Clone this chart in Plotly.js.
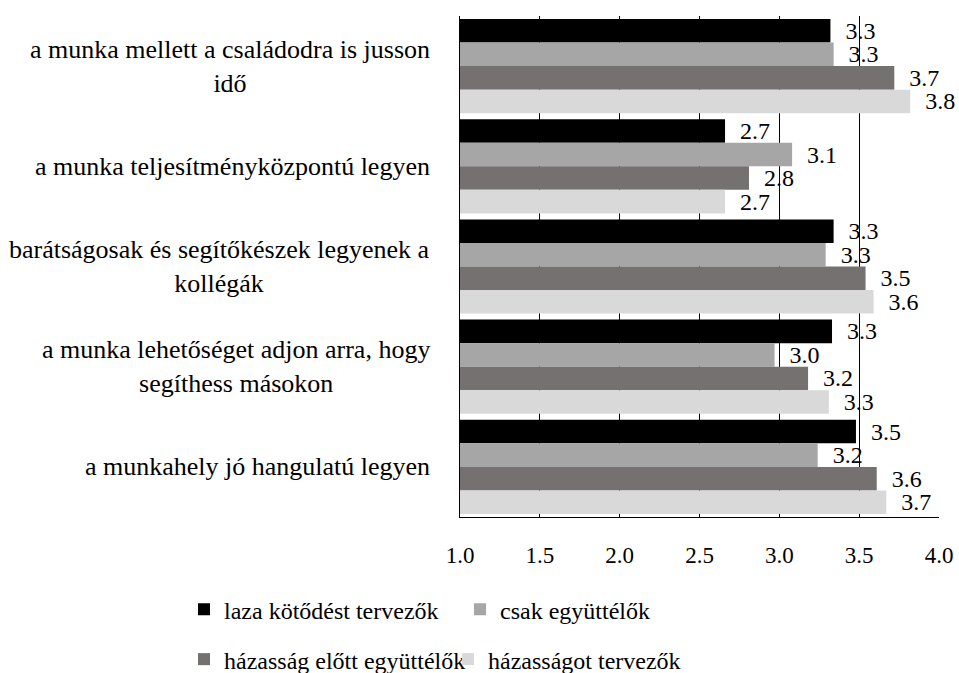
<!DOCTYPE html>
<html>
<head>
<meta charset="utf-8">
<script src="https://cdn.plot.ly/plotly-3.0.1.min.js"></script>
<style>
html body div#plotdiv svg text { font-family: "Liberation Serif", "Times New Roman", serif !important; }
</style>
</head>
<body style="margin:0;">
<div id="plotdiv" style="width:959px;height:673px;"></div>
<script>
const categories = [
  "a munka mellett a családodra is jusson<br>idő",
  "a munka teljesítményközpontú legyen",
  "barátságosak és segítőkészek legyenek a<br>kollégák",
  "a munka lehetőséget adjon arra, hogy<br>segíthess másokon",
  "a munkahely jó hangulatú legyen"
];
const seriesNames = ["laza kötődést tervezők", "csak együttélők", "házasság előtt együttélők", "házasságot tervezők"];
const lazaKotodes = [3.32, 2.66, 3.34, 3.33, 3.48];
const csakEgyutt = [3.34, 3.08, 3.29, 2.97, 3.24];
const hazassagElott = [3.72, 2.81, 3.54, 3.18, 3.61];
const hazassagTerv = [3.82, 2.66, 3.59, 3.31, 3.67];
const xTicks = [1.0, 1.5, 2.0, 2.5, 3.0, 3.5, 4.0];

const seriesValues = [lazaKotodes, csakEgyutt, hazassagElott, hazassagTerv];
const colors = ["#000000", "#a6a6a6", "#767171", "#d9d9d9"];
const legendIds = ["legend", "legend2", "legend3", "legend4"];
const F = "Liberation Serif";

const traces = seriesValues.map((vals, i) => ({
  type: "bar",
  orientation: "h",
  name: seriesNames[i],
  x: vals.map(v => v - 1),
  base: 1,
  customdata: vals,
  y: categories,
  marker: {color: colors[i], line: {width: 0}},
  texttemplate: "\u00a0\u00a0%{customdata:.1f}",
  textposition: "outside",
  constraintext: "none",
  cliponaxis: false,
  textfont: {family: F, size: 24, color: "#000"},
  legend: legendIds[i],
  hoverinfo: "name"
}));

const annotations = categories.map(c => ({
  xref: "paper", yref: "y", x: 0, y: c,
  xanchor: "right", yanchor: "middle", xshift: -28,
  text: c, align: "center", showarrow: false,
  font: {family: F, size: 26, color: "#000"}
}));

function leg(x, y) {
  return {orientation: "h", xref: "container", yref: "container", x: x, y: y,
    xanchor: "left", yanchor: "middle", bgcolor: "rgba(0,0,0,0)",
    font: {family: F, size: 24, color: "#000"}};
}

const layout = {
  width: 959, height: 673,
  margin: {l: 460, r: 20, t: 16, b: 156},
  paper_bgcolor: "#fff", plot_bgcolor: "#fff",
  font: {family: F, size: 22, color: "#000"},
  barmode: "group", bargap: 0.06, bargroupgap: 0,
  xaxis: {
    range: [1, 4], tickvals: xTicks, ticktext: xTicks.map(v => v.toFixed(1)),
    showgrid: true, gridcolor: "#000", gridwidth: 1,
    showline: true, linecolor: "#000", linewidth: 1,
    zeroline: false, ticks: "", ticklabelstandoff: 17,
    tickfont: {family: F, size: 23, color: "#000"}
  },
  yaxis: {
    autorange: "reversed", showticklabels: false, showgrid: false,
    showline: true, linecolor: "#000", linewidth: 1, ticks: ""
  },
  annotations: annotations,
  showlegend: true,
  legend: leg(184 / 959, 0.094),
  legend2: leg(460 / 959, 0.094),
  legend3: leg(184 / 959, 0.02),
  legend4: leg(448 / 959, 0.02)
};

Plotly.newPlot("plotdiv", traces, layout, {displayModeBar: false});
</script>
</body>
</html>
